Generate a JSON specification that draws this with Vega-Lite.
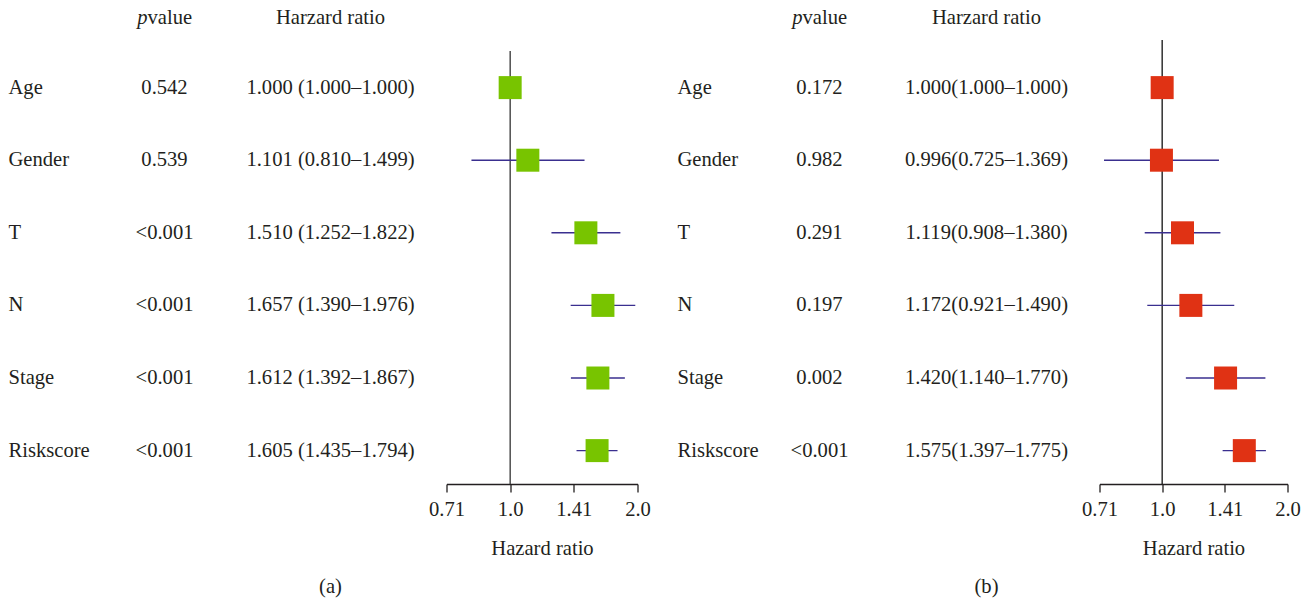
{
  "$schema": "https://vega.github.io/schema/vega-lite/v6.json",
  "padding": {"left": 8.5, "top": 0, "right": 0, "bottom": 0},
  "background": "white",
  "columns": 8,
  "align": "each",
  "bounds": "flush",
  "spacing": 40,
  "config": {
    "view": {"stroke": null},
    "font": "Liberation Serif",
    "text": {"font": "Liberation Serif", "fontSize": 20.6, "color": "#231f20", "baseline": "middle"},
    "title": {"font": "Liberation Serif", "fontSize": 20.6, "fontWeight": "normal", "color": "#231f20"}
  },
  "datasets": {
    "a": [
      {"var": "Age", "p": "0.542", "hr": "1.000 (1.000–1.000)", "est": 1.000, "lo": 1.000, "hi": 1.000},
      {"var": "Gender", "p": "0.539", "hr": "1.101 (0.810–1.499)", "est": 1.101, "lo": 0.810, "hi": 1.499},
      {"var": "T", "p": "<0.001", "hr": "1.510 (1.252–1.822)", "est": 1.510, "lo": 1.252, "hi": 1.822},
      {"var": "N", "p": "<0.001", "hr": "1.657 (1.390–1.976)", "est": 1.657, "lo": 1.390, "hi": 1.976},
      {"var": "Stage", "p": "<0.001", "hr": "1.612 (1.392–1.867)", "est": 1.612, "lo": 1.392, "hi": 1.867},
      {"var": "Riskscore", "p": "<0.001", "hr": "1.605 (1.435–1.794)", "est": 1.605, "lo": 1.435, "hi": 1.794}
    ],
    "b": [
      {"var": "Age", "p": "0.172", "hr": "1.000(1.000–1.000)", "est": 1.000, "lo": 1.000, "hi": 1.000},
      {"var": "Gender", "p": "0.982", "hr": "0.996(0.725–1.369)", "est": 0.996, "lo": 0.725, "hi": 1.369},
      {"var": "T", "p": "0.291", "hr": "1.119(0.908–1.380)", "est": 1.119, "lo": 0.908, "hi": 1.380},
      {"var": "N", "p": "0.197", "hr": "1.172(0.921–1.490)", "est": 1.172, "lo": 0.921, "hi": 1.490},
      {"var": "Stage", "p": "0.002", "hr": "1.420(1.140–1.770)", "est": 1.420, "lo": 1.140, "hi": 1.770},
      {"var": "Riskscore", "p": "<0.001", "hr": "1.575(1.397–1.775)", "est": 1.575, "lo": 1.397, "hi": 1.775}
    ],
    "hdr": [{"var": "header", "p1": "p", "p2": "value", "h": "Harzard ratio", "ref": 1}]
  },
  "concat": [
    {
      "width": 65.5, "height": 484,
      "data": {"name": "a"},
      "mark": {"type": "text", "align": "left"},
      "encoding": {
        "x": {"datum": "label", "type": "nominal", "scale": {"type": "point", "padding": 0, "align": 0}, "axis": null},
        "y": {"field": "var", "type": "nominal", "scale": {"type": "point", "domain": ["header", "Age", "Gender", "T", "N", "Stage", "Riskscore"], "padding": 0.3333, "align": 0.31}, "axis": null},
        "text": {"field": "var"}
      }
    },
    {
      "width": 100, "height": 484,
      "layer": [
        {
          "data": {"name": "a"},
          "mark": {"type": "text", "align": "center"},
          "encoding": {
            "y": {"field": "var", "type": "nominal", "scale": {"type": "point", "domain": ["header", "Age", "Gender", "T", "N", "Stage", "Riskscore"], "padding": 0.3333, "align": 0.31}, "axis": null},
            "text": {"field": "p"}
          }
        },
        {
          "data": {"name": "hdr"},
          "mark": {"type": "text", "align": "right", "fontStyle": "italic", "dx": -17, "dy": 3},
          "encoding": {
            "y": {"field": "var", "type": "nominal", "scale": {"type": "point", "domain": ["header", "Age", "Gender", "T", "N", "Stage", "Riskscore"], "padding": 0.3333, "align": 0.31}, "axis": null},
            "text": {"field": "p1"}
          }
        },
        {
          "data": {"name": "hdr"},
          "mark": {"type": "text", "align": "left", "dx": -17, "dy": 3},
          "encoding": {
            "y": {"field": "var", "type": "nominal", "scale": {"type": "point", "domain": ["header", "Age", "Gender", "T", "N", "Stage", "Riskscore"], "padding": 0.3333, "align": 0.31}, "axis": null},
            "text": {"field": "p2"}
          }
        }
      ]
    },
    {
      "width": 152, "height": 484,
      "title": {"text": "(a)", "orient": "bottom", "anchor": "middle", "frame": "group", "offset": 93},
      "layer": [
        {
          "data": {"name": "a"},
          "mark": {"type": "text", "align": "center"},
          "encoding": {
            "y": {"field": "var", "type": "nominal", "scale": {"type": "point", "domain": ["header", "Age", "Gender", "T", "N", "Stage", "Riskscore"], "padding": 0.3333, "align": 0.31}, "axis": null},
            "text": {"field": "hr"}
          }
        },
        {
          "data": {"name": "hdr"},
          "mark": {"type": "text", "align": "center", "dy": 3},
          "encoding": {
            "y": {"field": "var", "type": "nominal", "scale": {"type": "point", "domain": ["header", "Age", "Gender", "T", "N", "Stage", "Riskscore"], "padding": 0.3333, "align": 0.31}, "axis": null},
            "text": {"field": "h"}
          }
        }
      ]
    },
    {
      "width": 191, "height": 484,
      "layer": [
        {
          "data": {"name": "hdr"},
          "mark": {"type": "rule", "color": "#333333", "strokeWidth": 1.3, "yOffset": 36},
          "encoding": {
            "x": {"field": "ref", "type": "quantitative", "scale": {"type": "log", "domain": [0.70711, 2], "nice": false},
                  "axis": {"values": [0.70711, 1, 1.41421, 2], "labelExpr": "datum.value < 0.8 ? '0.71' : datum.value < 1.2 ? '1.0' : datum.value < 1.7 ? '1.41' : '2.0'", "title": "Hazard ratio", "grid": false, "domainColor": "#231f20", "domainWidth": 1.3, "tickColor": "#231f20", "tickWidth": 1.3, "tickSize": 8, "labelFontSize": 20.6, "labelFont": "Liberation Serif", "labelColor": "#231f20", "labelPadding": 7, "labelFlush": false, "labelOverlap": false, "titleFontSize": 20.6, "titleFont": "Liberation Serif", "titleFontWeight": "normal", "titleColor": "#231f20", "titlePadding": 19}},
            "y": {"field": "var", "type": "nominal", "scale": {"type": "point", "domain": ["header", "Age", "Gender", "T", "N", "Stage", "Riskscore"], "padding": 0.3333, "align": 0.31}, "axis": null},
            "y2": {"value": "height"}
          }
        },
        {
          "data": {"name": "a"},
          "mark": {"type": "rule", "color": "#3a2f8f", "strokeWidth": 1.4},
          "encoding": {
            "x": {"field": "lo", "type": "quantitative", "scale": {"type": "log", "domain": [0.70711, 2], "nice": false},
                  "axis": {"values": [0.70711, 1, 1.41421, 2], "labelExpr": "datum.value < 0.8 ? '0.71' : datum.value < 1.2 ? '1.0' : datum.value < 1.7 ? '1.41' : '2.0'", "title": "Hazard ratio", "grid": false, "domainColor": "#231f20", "domainWidth": 1.3, "tickColor": "#231f20", "tickWidth": 1.3, "tickSize": 8, "labelFontSize": 20.6, "labelFont": "Liberation Serif", "labelColor": "#231f20", "labelPadding": 7, "labelFlush": false, "labelOverlap": false, "titleFontSize": 20.6, "titleFont": "Liberation Serif", "titleFontWeight": "normal", "titleColor": "#231f20", "titlePadding": 19}},
            "x2": {"field": "hi"},
            "y": {"field": "var", "type": "nominal", "scale": {"type": "point", "domain": ["header", "Age", "Gender", "T", "N", "Stage", "Riskscore"], "padding": 0.3333, "align": 0.31}, "axis": null}
          }
        },
        {
          "data": {"name": "a"},
          "mark": {"type": "square", "color": "#78c400", "opacity": 1, "size": 529, "filled": true},
          "encoding": {
            "x": {"field": "est", "type": "quantitative", "scale": {"type": "log", "domain": [0.70711, 2], "nice": false},
                  "axis": {"values": [0.70711, 1, 1.41421, 2], "labelExpr": "datum.value < 0.8 ? '0.71' : datum.value < 1.2 ? '1.0' : datum.value < 1.7 ? '1.41' : '2.0'", "title": "Hazard ratio", "grid": false, "domainColor": "#231f20", "domainWidth": 1.3, "tickColor": "#231f20", "tickWidth": 1.3, "tickSize": 8, "labelFontSize": 20.6, "labelFont": "Liberation Serif", "labelColor": "#231f20", "labelPadding": 7, "labelFlush": false, "labelOverlap": false, "titleFontSize": 20.6, "titleFont": "Liberation Serif", "titleFontWeight": "normal", "titleColor": "#231f20", "titlePadding": 19}},
            "y": {"field": "var", "type": "nominal", "scale": {"type": "point", "domain": ["header", "Age", "Gender", "T", "N", "Stage", "Riskscore"], "padding": 0.3333, "align": 0.31}, "axis": null}
          }
        }
      ]
    },
    {
      "width": 48, "height": 484,
      "data": {"name": "b"},
      "mark": {"type": "text", "align": "left"},
      "encoding": {
        "x": {"datum": "label", "type": "nominal", "scale": {"type": "point", "padding": 0, "align": 0}, "axis": null},
        "y": {"field": "var", "type": "nominal", "scale": {"type": "point", "domain": ["header", "Age", "Gender", "T", "N", "Stage", "Riskscore"], "padding": 0.3333, "align": 0.31}, "axis": null},
        "text": {"field": "var"}
      }
    },
    {
      "width": 108, "height": 484,
      "layer": [
        {
          "data": {"name": "b"},
          "mark": {"type": "text", "align": "center"},
          "encoding": {
            "y": {"field": "var", "type": "nominal", "scale": {"type": "point", "domain": ["header", "Age", "Gender", "T", "N", "Stage", "Riskscore"], "padding": 0.3333, "align": 0.31}, "axis": null},
            "text": {"field": "p"}
          }
        },
        {
          "data": {"name": "hdr"},
          "mark": {"type": "text", "align": "right", "fontStyle": "italic", "dx": -17, "dy": 3},
          "encoding": {
            "y": {"field": "var", "type": "nominal", "scale": {"type": "point", "domain": ["header", "Age", "Gender", "T", "N", "Stage", "Riskscore"], "padding": 0.3333, "align": 0.31}, "axis": null},
            "text": {"field": "p1"}
          }
        },
        {
          "data": {"name": "hdr"},
          "mark": {"type": "text", "align": "left", "dx": -17, "dy": 3},
          "encoding": {
            "y": {"field": "var", "type": "nominal", "scale": {"type": "point", "domain": ["header", "Age", "Gender", "T", "N", "Stage", "Riskscore"], "padding": 0.3333, "align": 0.31}, "axis": null},
            "text": {"field": "p2"}
          }
        }
      ]
    },
    {
      "width": 146, "height": 484,
      "title": {"text": "(b)", "orient": "bottom", "anchor": "middle", "frame": "group", "offset": 93},
      "layer": [
        {
          "data": {"name": "b"},
          "mark": {"type": "text", "align": "center"},
          "encoding": {
            "y": {"field": "var", "type": "nominal", "scale": {"type": "point", "domain": ["header", "Age", "Gender", "T", "N", "Stage", "Riskscore"], "padding": 0.3333, "align": 0.31}, "axis": null},
            "text": {"field": "hr"}
          }
        },
        {
          "data": {"name": "hdr"},
          "mark": {"type": "text", "align": "center", "dy": 3},
          "encoding": {
            "y": {"field": "var", "type": "nominal", "scale": {"type": "point", "domain": ["header", "Age", "Gender", "T", "N", "Stage", "Riskscore"], "padding": 0.3333, "align": 0.31}, "axis": null},
            "text": {"field": "h"}
          }
        }
      ]
    },
    {
      "width": 188, "height": 484,
      "layer": [
        {
          "data": {"name": "hdr"},
          "mark": {"type": "rule", "color": "#111111", "strokeWidth": 1.3, "yOffset": 25},
          "encoding": {
            "x": {"field": "ref", "type": "quantitative", "scale": {"type": "log", "domain": [0.70711, 2], "nice": false},
                  "axis": {"values": [0.70711, 1, 1.41421, 2], "labelExpr": "datum.value < 0.8 ? '0.71' : datum.value < 1.2 ? '1.0' : datum.value < 1.7 ? '1.41' : '2.0'", "title": "Hazard ratio", "grid": false, "domainColor": "#231f20", "domainWidth": 1.3, "tickColor": "#231f20", "tickWidth": 1.3, "tickSize": 8, "labelFontSize": 20.6, "labelFont": "Liberation Serif", "labelColor": "#231f20", "labelPadding": 7, "labelFlush": false, "labelOverlap": false, "titleFontSize": 20.6, "titleFont": "Liberation Serif", "titleFontWeight": "normal", "titleColor": "#231f20", "titlePadding": 19}},
            "y": {"field": "var", "type": "nominal", "scale": {"type": "point", "domain": ["header", "Age", "Gender", "T", "N", "Stage", "Riskscore"], "padding": 0.3333, "align": 0.31}, "axis": null},
            "y2": {"value": "height"}
          }
        },
        {
          "data": {"name": "b"},
          "mark": {"type": "rule", "color": "#3a2f8f", "strokeWidth": 1.4},
          "encoding": {
            "x": {"field": "lo", "type": "quantitative", "scale": {"type": "log", "domain": [0.70711, 2], "nice": false},
                  "axis": {"values": [0.70711, 1, 1.41421, 2], "labelExpr": "datum.value < 0.8 ? '0.71' : datum.value < 1.2 ? '1.0' : datum.value < 1.7 ? '1.41' : '2.0'", "title": "Hazard ratio", "grid": false, "domainColor": "#231f20", "domainWidth": 1.3, "tickColor": "#231f20", "tickWidth": 1.3, "tickSize": 8, "labelFontSize": 20.6, "labelFont": "Liberation Serif", "labelColor": "#231f20", "labelPadding": 7, "labelFlush": false, "labelOverlap": false, "titleFontSize": 20.6, "titleFont": "Liberation Serif", "titleFontWeight": "normal", "titleColor": "#231f20", "titlePadding": 19}},
            "x2": {"field": "hi"},
            "y": {"field": "var", "type": "nominal", "scale": {"type": "point", "domain": ["header", "Age", "Gender", "T", "N", "Stage", "Riskscore"], "padding": 0.3333, "align": 0.31}, "axis": null}
          }
        },
        {
          "data": {"name": "b"},
          "mark": {"type": "square", "color": "#e03214", "opacity": 1, "size": 529, "filled": true},
          "encoding": {
            "x": {"field": "est", "type": "quantitative", "scale": {"type": "log", "domain": [0.70711, 2], "nice": false},
                  "axis": {"values": [0.70711, 1, 1.41421, 2], "labelExpr": "datum.value < 0.8 ? '0.71' : datum.value < 1.2 ? '1.0' : datum.value < 1.7 ? '1.41' : '2.0'", "title": "Hazard ratio", "grid": false, "domainColor": "#231f20", "domainWidth": 1.3, "tickColor": "#231f20", "tickWidth": 1.3, "tickSize": 8, "labelFontSize": 20.6, "labelFont": "Liberation Serif", "labelColor": "#231f20", "labelPadding": 7, "labelFlush": false, "labelOverlap": false, "titleFontSize": 20.6, "titleFont": "Liberation Serif", "titleFontWeight": "normal", "titleColor": "#231f20", "titlePadding": 19}},
            "y": {"field": "var", "type": "nominal", "scale": {"type": "point", "domain": ["header", "Age", "Gender", "T", "N", "Stage", "Riskscore"], "padding": 0.3333, "align": 0.31}, "axis": null}
          }
        }
      ]
    }
  ]
}
